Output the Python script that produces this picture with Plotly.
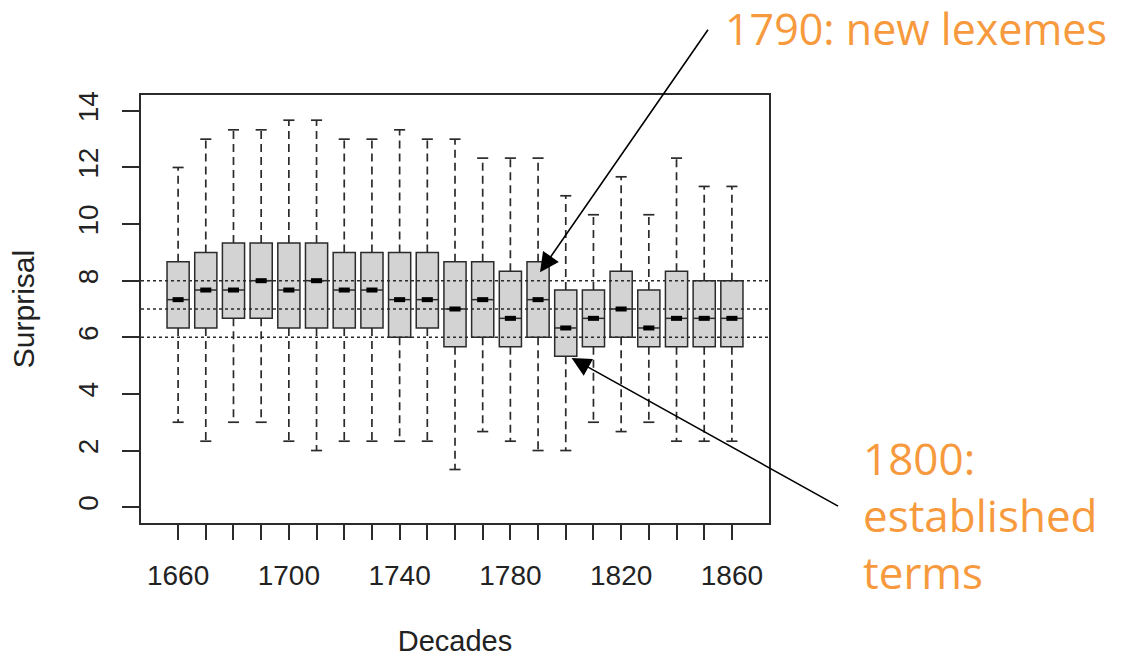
import plotly.graph_objects as go

# ---- data ----
decades = [1660, 1670, 1680, 1690, 1700, 1710, 1720, 1730, 1740, 1750, 1760,
           1770, 1780, 1790, 1800, 1810, 1820, 1830, 1840, 1850, 1860]
upper_whisker = [12.0, 13.0, 13.33, 13.33, 13.67, 13.67, 13.0, 13.0, 13.33, 13.0, 13.0,
                 12.33, 12.33, 12.33, 11.0, 10.33, 11.67, 10.33, 12.33, 11.33, 11.33]
q3 = [8.67, 9.0, 9.33, 9.33, 9.33, 9.33, 9.0, 9.0, 9.0, 9.0, 8.67,
      8.67, 8.33, 8.67, 7.67, 7.67, 8.33, 7.67, 8.33, 8.0, 8.0]
median = [7.33, 7.67, 7.67, 8.0, 7.67, 8.0, 7.67, 7.67, 7.33, 7.33, 7.0,
          7.33, 6.67, 7.33, 6.33, 6.67, 7.0, 6.33, 6.67, 6.67, 6.67]
q1 = [6.33, 6.33, 6.67, 6.67, 6.33, 6.33, 6.33, 6.33, 6.0, 6.33, 5.67,
      6.0, 5.67, 6.0, 5.33, 5.67, 6.0, 5.67, 5.67, 5.67, 5.67]
lower_whisker = [3.0, 2.33, 3.0, 3.0, 2.33, 2.0, 2.33, 2.33, 2.33, 2.33, 1.33,
                 2.67, 2.33, 2.0, 2.0, 3.0, 2.67, 3.0, 2.33, 2.33, 2.33]
ref_lines = [6, 7, 8]
y_ticks = [0, 2, 4, 6, 8, 10, 12, 14]
x_tick_labels = ["1660", "", "", "", "1700", "", "", "", "1740", "", "", "",
                 "1780", "", "", "", "1820", "", "", "", "1860"]
annotation_top = "1790: new lexemes"
annotation_bottom = "1800:<br>established<br>terms"
arrow_top_target = (1790.7, 8.3)
arrow_bottom_target = (1802.1, 5.27)

# ---- style ----
BOX_W = 8.0       # in decade units (R boxwex 0.8)
CAP_HALF = 2.0
MED_HALF = 2.0
DARK = "#2b2b2b"
ORANGE = "#F79A3E"
AXIS_FONT = "Liberation Sans, Arial, sans-serif"
n = len(decades)
# R extends xlim (0.5, n+0.5) and ylim (0, 14) by 4%
x_range = [decades[0] - 10 * (0.5 + 0.04 * n), decades[-1] + 10 * (0.5 + 0.04 * n)]
y_range = [0 - 0.04 * 14, 14 + 0.04 * 14]

fig = go.Figure()

# boxes
fig.add_trace(go.Bar(
    x=decades, y=[a - b for a, b in zip(q3, q1)], base=q1, width=BOX_W,
    marker=dict(color="#D3D3D3", line=dict(color=DARK, width=1.5)),
    hoverinfo="skip", showlegend=False))

# whiskers (dashed)
wx, wy = [], []
for d, lo, b1, b3, hi in zip(decades, lower_whisker, q1, q3, upper_whisker):
    wx += [d, d, None, d, d, None]
    wy += [b3, hi, None, b1, lo, None]
fig.add_trace(go.Scatter(x=wx, y=wy, mode="lines",
                         line=dict(color=DARK, width=1.7, dash="8px,5px"),
                         hoverinfo="skip", showlegend=False))

# caps
cx, cy = [], []
for d, lo, hi in zip(decades, lower_whisker, upper_whisker):
    cx += [d - CAP_HALF, d + CAP_HALF, None, d - CAP_HALF, d + CAP_HALF, None]
    cy += [hi, hi, None, lo, lo, None]
fig.add_trace(go.Scatter(x=cx, y=cy, mode="lines",
                         line=dict(color=DARK, width=1.7),
                         hoverinfo="skip", showlegend=False))

# reference dotted lines
for h in ref_lines:
    fig.add_trace(go.Scatter(x=x_range, y=[h, h], mode="lines",
                             line=dict(color=DARK, width=1.6, dash="3px,3px"),
                             hoverinfo="skip", showlegend=False))

# medians: thin full-width + thick centre
mx, my, tx, ty = [], [], [], []
for d, m in zip(decades, median):
    mx += [d - BOX_W / 2, d + BOX_W / 2, None]
    my += [m, m, None]
    tx += [d - MED_HALF, d + MED_HALF, None]
    ty += [m, m, None]
fig.add_trace(go.Scatter(x=mx, y=my, mode="lines",
                         line=dict(color=DARK, width=1.5),
                         hoverinfo="skip", showlegend=False))
fig.add_trace(go.Scatter(x=tx, y=ty, mode="lines",
                         line=dict(color="black", width=5),
                         hoverinfo="skip", showlegend=False))

# arrows
fig.add_annotation(x=arrow_top_target[0], y=arrow_top_target[1], xref="x", yref="y",
                   text="", showarrow=True, ax=169, ay=-244,
                   arrowhead=2, arrowsize=2.4, arrowwidth=1.6, arrowcolor="black")
fig.add_annotation(x=arrow_bottom_target[0], y=arrow_bottom_target[1], xref="x", yref="y",
                   text="", showarrow=True, ax=268, ay=149,
                   arrowhead=2, arrowsize=2.4, arrowwidth=1.6, arrowcolor="black")

# orange labels
L, R, T, B = 141, 769, 95, 523
def px(xp):
    return (xp - L) / (R - L)
def py(yp):
    return (B - yp) / (B - T)

fig.add_annotation(x=px(723), y=py(28), xref="paper", yref="paper",
                   text=annotation_top, showarrow=False, xanchor="left", yanchor="middle",
                   font=dict(family="Open Sans", size=43, color=ORANGE))
fig.add_annotation(x=px(861), y=py(515), xref="paper", yref="paper",
                   text=annotation_bottom, showarrow=False, xanchor="left", yanchor="middle",
                   align="left",
                   font=dict(family="Open Sans", size=44, color=ORANGE))

fig.update_layout(
    width=1122, height=657,
    margin=dict(l=L, r=1122 - R, t=T, b=657 - B),
    paper_bgcolor="white", plot_bgcolor="white",
    barmode="overlay", showlegend=False,
    font=dict(family=AXIS_FONT, color="#222"),
)
fig.update_xaxes(
    range=x_range, tickvals=decades, ticktext=x_tick_labels,
    ticks="outside", ticklen=15, tickwidth=1.5, tickcolor=DARK,
    showline=True, mirror=True, linecolor=DARK, linewidth=1.5,
    showgrid=False, zeroline=False, tickfont=dict(size=28, family=AXIS_FONT),
    ticklabelstandoff=12, automargin=False,
    title=dict(text="Decades", font=dict(size=29, family=AXIS_FONT), standoff=44),
)
fig.update_yaxes(
    range=y_range, tickvals=y_ticks, tickangle=-90,
    ticks="outside", ticklen=17, tickwidth=1.5, tickcolor=DARK,
    showline=True, mirror=True, linecolor=DARK, linewidth=1.5,
    showgrid=False, zeroline=False, tickfont=dict(size=28, family=AXIS_FONT),
    ticklabelstandoff=13, automargin=False,
    title=dict(text="Surprisal", font=dict(size=30, family=AXIS_FONT), standoff=30),
)

fig.write_html("out.html", config={"displayModeBar": False},
               post_script="document.body.style.margin='0';")
